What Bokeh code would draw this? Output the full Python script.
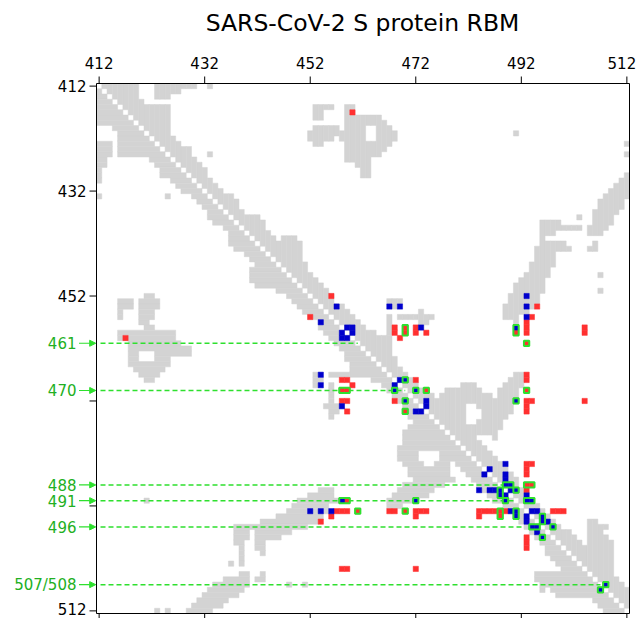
from bokeh.plotting import figure
from bokeh.models import Range1d, Arrow, NormalHead
from bokeh.core.properties import value
from bokeh.embed import file_html
from bokeh.resources import INLINE

# residue numbering: residue = RES0 + index
RES0 = 412
RES_LAST = 512
TICKS = [412, 432, 452, 472, 492, 512]
TOP_TICK_LABELS = ["412", "432", "452", "472", "492", "512"]
LEFT_TICK_LABELS = ["412", "432", "452", "", "", "512"]
TITLE = "SARS-CoV-2 S protein RBM"

# lower-triangle gray contacts: row index -> list of (first col index, last col index); map is symmetric
GRAY_ROWS = {
    1: [(0, 0)], 2: [(0, 1)], 3: [(0, 2)], 4: [(0, 3)], 5: [(0, 4)], 6: [(0, 5)], 7: [(0, 6)],
    8: [(3, 7)], 9: [(4, 8)], 10: [(4, 9)],
    11: [(0, 2), (4, 10)], 12: [(0, 2), (4, 11)], 13: [(0, 2), (4, 12)],
    14: [(0, 1), (10, 13)], 15: [(0, 1), (11, 14)], 16: [(0, 0), (12, 15)],
    17: [(0, 0), (12, 16)], 18: [(0, 0), (14, 17)], 19: [(15, 18)], 20: [(16, 19)],
    21: [(0, 0), (13, 13), (18, 20)], 22: [(19, 21)], 23: [(20, 22)], 24: [(21, 23)],
    25: [(21, 24)], 26: [(22, 25)], 27: [(24, 26)], 28: [(25, 27)], 29: [(25, 28)],
    30: [(25, 29)], 31: [(26, 30)], 32: [(28, 31)], 33: [(29, 32)], 34: [(30, 33)],
    35: [(29, 34)], 36: [(29, 35)], 37: [(29, 36)], 38: [(30, 37)], 39: [(34, 38)],
    40: [(9, 10), (36, 39)], 41: [(4, 6), (8, 11), (37, 40)], 42: [(4, 6), (8, 11), (38, 41)],
    43: [(4, 4), (8, 10), (39, 42)], 44: [(4, 4), (8, 10), (40, 43)], 45: [(8, 9), (42, 44)],
    46: [(9, 10), (42, 45)], 47: [(4, 14), (43, 46)], 48: [(4, 14), (44, 47)],
    49: [(6, 15), (45, 48)], 50: [(6, 17), (46, 49)], 51: [(6, 7), (11, 17), (47, 50)],
    52: [(6, 7), (11, 13), (47, 51)], 53: [(6, 13), (48, 52)], 54: [(7, 12), (48, 53)],
    55: [(8, 11), (41, 41), (44, 47), (48, 54)], 56: [(9, 10), (41, 42), (52, 55)],
    57: [(41, 41), (44, 44), (54, 56)], 58: [(44, 44), (55, 57)], 59: [(44, 44), (56, 58)],
    60: [(44, 44), (57, 59)], 61: [(43, 46), (58, 60)], 62: [(44, 45), (59, 61)],
    63: [(44, 44), (59, 62)], 64: [(60, 63)], 65: [(59, 64)], 66: [(58, 65)],
    67: [(58, 66)], 68: [(58, 67)], 69: [(57, 68)], 70: [(57, 60), (65, 69)],
    71: [(57, 60), (65, 70)], 72: [(58, 61), (64, 66), (68, 71)], 73: [(59, 66), (69, 72)],
    74: [(59, 66), (70, 73)], 75: [(60, 67), (71, 74)], 76: [(58, 65), (72, 75)],
    77: [(42, 44), (57, 63), (73, 76)], 78: [(40, 44), (56, 62), (74, 77)],
    79: [(9, 9), (38, 45), (55, 60), (75, 78)], 80: [(37, 43), (55, 57), (77, 79)],
    81: [(36, 43), (78, 80)], 82: [(34, 42), (79, 81)], 83: [(31, 41), (80, 82)],
    84: [(26, 39), (81, 83)], 85: [(26, 28), (30, 36), (82, 84)],
    86: [(26, 28), (30, 34), (83, 85)], 87: [(26, 27), (30, 31), (84, 86)],
    88: [(27, 27), (30, 31), (85, 87)], 89: [(27, 27), (31, 31), (85, 88)],
    90: [(27, 27), (86, 89)], 91: [(25, 25), (27, 27), (87, 90)], 92: [(88, 91)],
    93: [(27, 28), (31, 31), (83, 92)], 94: [(24, 28), (30, 31), (83, 93)],
    95: [(22, 28), (36, 36), (39, 39), (84, 94)], 96: [(21, 27), (84, 84), (86, 95)],
    97: [(20, 26), (87, 96)], 98: [(19, 24), (94, 97)], 99: [(18, 23), (95, 98)],
    100: [(11, 11), (13, 13), (17, 21), (96, 99)],
}

# upper-triangle (row < col) coloured contacts, index pairs; mirrored
RED_UP = [(5, 48), (40, 44), (46, 56), (47, 56), (48, 57), (46, 60), (47, 60), (47, 62),
          (42, 83), (44, 82), (45, 81), (46, 81), (47, 81), (46, 92), (47, 92), (55, 81),
          (56, 81), (56, 60), (60, 81), (61, 81), (62, 81), (60, 82), (60, 92), (72, 81),
          (73, 81), (74, 81), (72, 82), (77, 81), (81, 86), (81, 87), (81, 88),
          (46, 58), (47, 58), (47, 79), (49, 81), (58, 62), (58, 81), (76, 81), (76, 82)]
BLUE_UP = [(42, 45), (46, 47), (46, 48), (47, 48), (42, 55), (42, 57), (46, 61), (40, 81),
           (42, 81), (44, 81), (56, 57), (60, 62), (61, 62), (72, 77), (73, 74), (74, 77),
           (75, 77), (77, 78), (78, 81), (81, 82), (81, 83), (83, 85),
           (46, 79), (56, 58), (58, 60), (60, 79), (76, 77), (76, 78), (77, 79), (79, 81),
           (79, 82), (82, 84), (83, 84), (84, 86), (95, 96)]
RED_LOWER_ONLY = [(81, 75)]
# highlighted groups (row0, row1, col0, col1), upper triangle; mirrored
GREEN_UP = [(46, 47, 58, 58), (46, 47, 79, 79), (49, 49, 81, 81), (56, 56, 58, 58),
            (58, 58, 60, 60), (58, 58, 62, 62), (58, 58, 81, 81), (60, 60, 79, 79),
            (76, 76, 77, 78), (76, 76, 81, 82), (77, 77, 79, 79), (79, 79, 81, 82),
            (82, 83, 84, 84), (84, 84, 86, 86), (95, 95, 96, 96)]

MARK_RES = [461, 470, 488, 491, 496, 507]
MARK_END = [461, 470, 488.6, 491, 492.5, 507]
MARK_TEXT = ["461", "470", "488", "491", "496", "507/508"]

GRAY = "#d3d3d3"
RED = "#ff3030"
BLUE = "#0000cc"
GREEN = "#2ee02e"
LABEL_GREEN = "#22b022"
FONT = "DejaVu Sans"

# layout (pixels); the whole figure is one frame, axes are drawn by hand
W, H = 639, 618
MAP_LEFT, MAP_TOP, MAP_W, MAP_H = 96, 83, 533, 530
lo, hi = RES0 - 0.5, RES_LAST + 0.5
PX_X = MAP_W / (hi - lo)
PX_Y = MAP_H / (hi - lo)
X0 = lo - MAP_LEFT / PX_X
Y0 = lo - MAP_TOP / PX_Y


def sx(px):
    return X0 + px / PX_X


def sy(py):
    return Y0 + py / PX_Y


p = figure(width=W, height=H, x_range=Range1d(X0, X0 + W / PX_X),
           y_range=Range1d(Y0 + H / PX_Y, Y0), x_axis_location=None,
           y_axis_location=None, toolbar_location=None, output_backend="svg",
           min_border_left=0, min_border_right=0, min_border_top=0, min_border_bottom=0)
p.grid.visible = False
p.outline_line_color = None
p.background_fill_color = "white"
p.border_fill_color = "white"

# gray cells (lower runs and their mirror)
gl, gr, gt, gb = [], [], [], []
for k, runs in GRAY_ROWS.items():
    for c0, c1 in runs:
        gl.append(RES0 + c0 - 0.5); gr.append(RES0 + c1 + 0.5)
        gt.append(RES0 + k - 0.5); gb.append(RES0 + k + 0.5)
        gl.append(RES0 + k - 0.5); gr.append(RES0 + k + 0.5)
        gt.append(RES0 + c0 - 0.5); gb.append(RES0 + c1 + 0.5)
p.quad(left=gl, right=gr, top=gt, bottom=gb, fill_color=GRAY, line_color=GRAY, line_width=0.5)

# dashed marker lines
p.segment(x0=[lo + 4 / PX_X] * len(MARK_RES), y0=MARK_RES, x1=MARK_END, y1=MARK_RES,
          line_color=GREEN, line_width=1.5, line_dash="5 3")


def mirrored(cells):
    xs, ys = [], []
    for i, j in cells:
        xs += [RES0 + j, RES0 + i]
        ys += [RES0 + i, RES0 + j]
    return xs, ys


rx, ry = mirrored(RED_UP)
for i, j in RED_LOWER_ONLY:
    rx.append(RES0 + j); ry.append(RES0 + i)
p.rect(x=rx, y=ry, width=1, height=1, fill_color=RED, line_color=RED, line_width=0.5)
bxs, bys = mirrored(BLUE_UP)
p.rect(x=bxs, y=bys, width=1, height=1, fill_color=BLUE, line_color=BLUE, line_width=0.5)

ql, qr, qt, qb = [], [], [], []
for r0, r1, c0, c1 in GREEN_UP:
    ql += [RES0 + c0 - 0.5, RES0 + r0 - 0.5]
    qr += [RES0 + c1 + 0.5, RES0 + r1 + 0.5]
    qt += [RES0 + r0 - 0.5, RES0 + c0 - 0.5]
    qb += [RES0 + r1 + 0.5, RES0 + c1 + 0.5]
p.quad(left=ql, right=qr, top=qt, bottom=qb, fill_color=None, line_color=GREEN, line_width=2)

# map frame
p.quad(left=[lo], right=[hi], top=[lo], bottom=[hi], fill_color=None,
       line_color="black", line_width=1)

n = len(TICKS)
# top axis: ticks and labels
p.segment(x0=TICKS, y0=[lo] * n, x1=TICKS, y1=[lo - 7 / PX_Y] * n, line_color="black", line_width=1)
p.text(x=TICKS, y=[sy(62)] * n, text=TOP_TICK_LABELS, text_font=value(FONT),
       text_font_size=value("15px"), text_color="black", text_align="center",
       text_baseline="alphabetic", x_offset=[0, 0, 0, 0, 0, -5])
# left axis: ticks and labels
p.segment(x0=[lo - 7 / PX_X] * n, y0=TICKS, x1=[lo] * n, y1=TICKS, line_color="black", line_width=1)
p.text(x=[lo - 10 / PX_X] * n, y=TICKS, text=LEFT_TICK_LABELS,
       text_font=value(FONT), text_font_size=value("15px"), text_color="black",
       text_align="right", text_baseline="middle", y_offset=[0, 0, 0, 0, 0, -2])
# bottom axis: ticks only
p.segment(x0=TICKS, y0=[hi] * n, x1=TICKS, y1=[hi + 5 / PX_Y] * n, line_color="black", line_width=1)

# title
p.text(x=[sx(362)], y=[sy(22)], text=[TITLE], text_font=value(FONT),
       text_font_size=value("23.5px"), text_color="black", text_align="center",
       text_baseline="alphabetic")

# marker labels and arrows on the left
p.text(x=[lo - 20 / PX_X] * len(MARK_RES), y=MARK_RES, text=MARK_TEXT,
       text_font=value(FONT), text_font_size=value("15px"), text_color=LABEL_GREEN,
       text_align="right", text_baseline="middle")
for r in MARK_RES:
    p.add_layout(Arrow(end=NormalHead(size=6, fill_color=GREEN, line_color=GREEN),
                       x_start=lo - 17.5 / PX_X, y_start=r, x_end=lo - 0.8 / PX_X, y_end=r,
                       line_color=GREEN, line_width=1.2))

open("out.html", "w").write(file_html(p, INLINE))
